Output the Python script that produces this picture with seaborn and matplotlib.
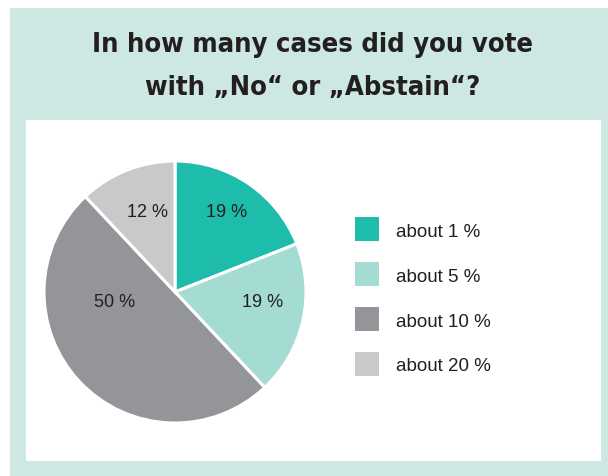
import matplotlib
matplotlib.use("Agg")
import matplotlib.pyplot as plt
from matplotlib.patches import Rectangle
from matplotlib.lines import Line2D
import seaborn as sns

# Survey answers
categories = ["about 1 %", "about 5 %", "about 10 %", "about 20 %"]
shares = [19, 19, 50, 12]
title_lines = ["In how many cases did you vote", "with \u201eNo\u201c or \u201eAbstain\u201c?"]

sns.set_theme(style="white")
plt.rcParams["font.family"] = ["Liberation Sans", "DejaVu Sans"]

palette = sns.color_palette(["#1dbcab", "#a4dbd2", "#939598", "#c8c9cb"])
mint = "#cde8e2"
ink = "#231f20"

W, H = 608, 476
fig = plt.figure(figsize=(W / 100, H / 100), dpi=100, facecolor="white")

def px(x0, y0, x1, y1):
    """Figure-fraction box from pixel corners measured from the top-left."""
    return [x0 / W, 1 - y1 / H, (x1 - x0) / W, (y1 - y0) / H]

# Mint frame and white inner panel
b = px(10, 8, 608, 476)
fig.patches.append(Rectangle((b[0], b[1]), b[2], b[3], transform=fig.transFigure,
                             facecolor=mint, edgecolor="none", zorder=-10))
b = px(26, 120, 601, 461)
fig.patches.append(Rectangle((b[0], b[1]), b[2], b[3], transform=fig.transFigure,
                             facecolor="white", edgecolor="none", zorder=-9))

# Title
for i, line in enumerate(title_lines):
    fig.text(313 / W, 1 - (45 + 43 * i) / H, line, ha="center", va="center",
             fontsize=19.6, fontweight="bold", color=ink, fontstretch="condensed",
             family=["DejaVu Sans"])

# Pie
ax = fig.add_axes(px(44, 161, 306, 423))
ax.set_facecolor("none")
wedges, _texts, autotexts = ax.pie(
    shares, colors=palette, startangle=90, counterclock=False, radius=1,
    autopct=lambda p: f"{p:.0f} %", pctdistance=0.72,
    wedgeprops=dict(edgecolor="white", linewidth=2.2),
    textprops=dict(color=ink, fontsize=13),
)
label_pos = [(0.39, 0.61), (0.67, -0.08), (-0.46, -0.08), (-0.21, 0.61)]
for t, pos in zip(autotexts, label_pos):
    t.set_position(pos)
    t.set_va("center")
    t.set_ha("center")
ax.set_xlim(-1, 1)
ax.set_ylim(-1, 1)
ax.set_aspect("equal")
ax.axis("off")

# Legend with square swatches
handles = [Line2D([], [], marker="s", linestyle="none", markersize=16.8,
                  markerfacecolor=c, markeredgewidth=0) for c in palette]
fig.legend(handles, categories, loc="upper left",
           bbox_to_anchor=(355 / W, 1 - 222 / H), frameon=False,
           fontsize=13.5, labelcolor=ink, handlelength=1.25, handleheight=1.0,
           handletextpad=0.92, labelspacing=1.39, borderpad=0, borderaxespad=0)

fig.savefig("out.png", dpi=100, facecolor="white")
